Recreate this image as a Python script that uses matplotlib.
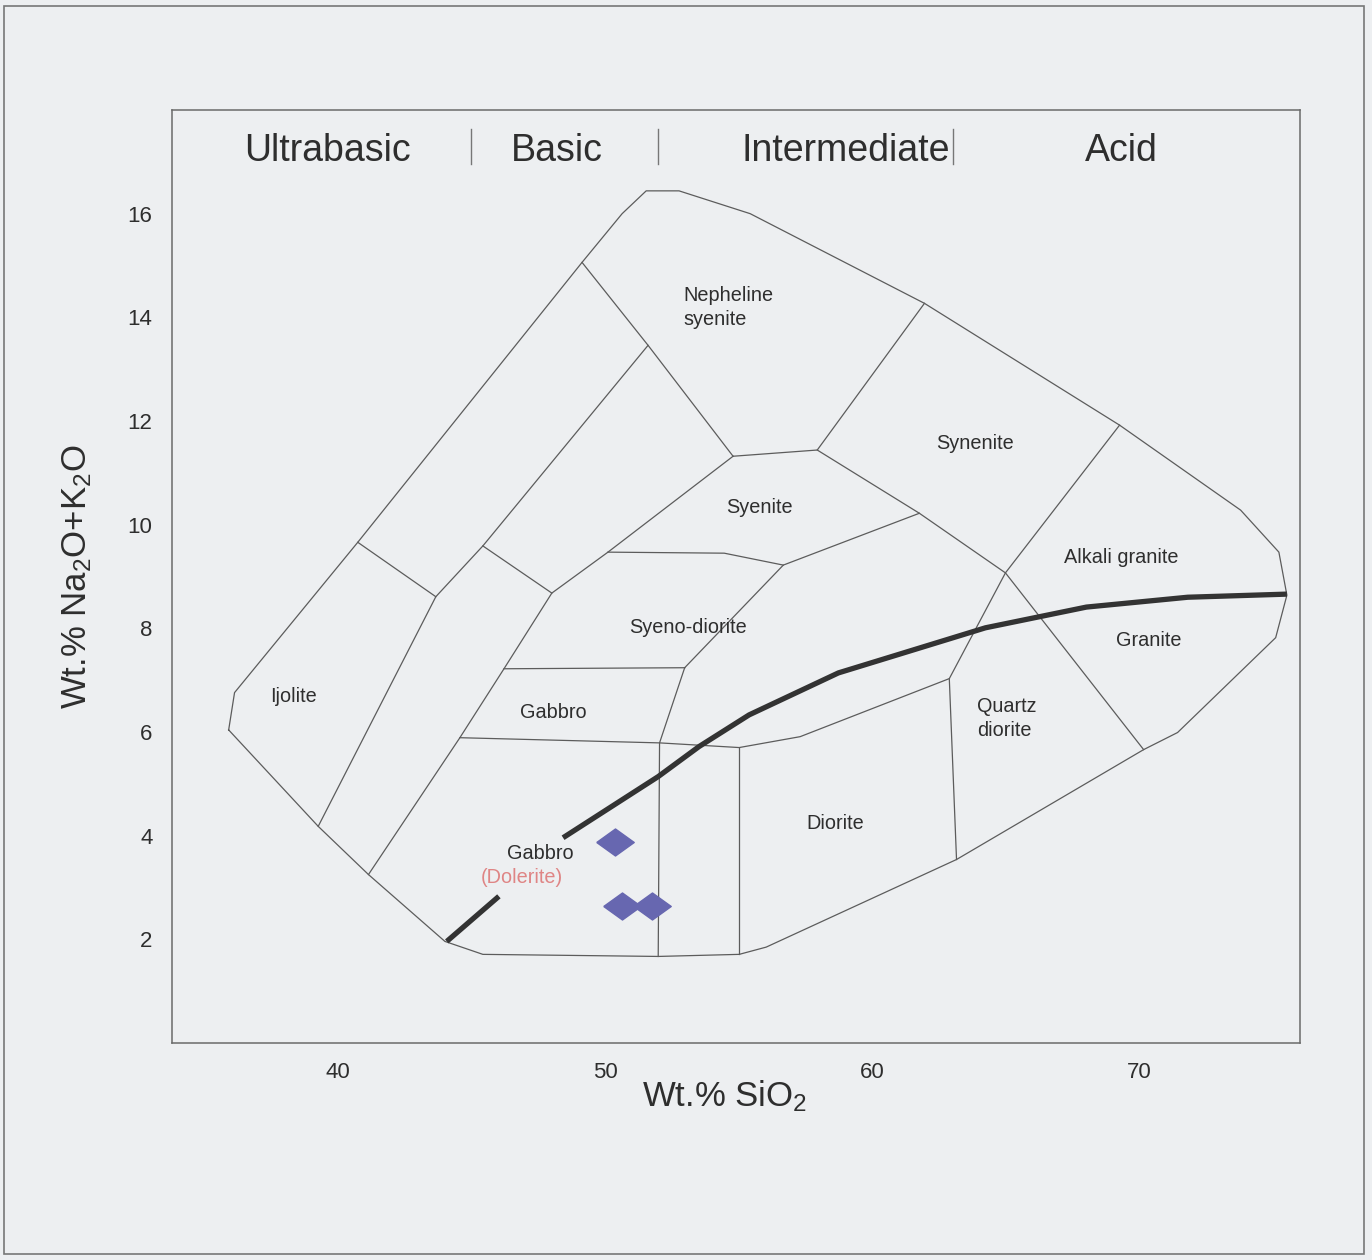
import matplotlib.pyplot as plt
from matplotlib.patches import Rectangle

plt.rcParams['font.family'] = ['Liberation Sans', 'DejaVu Sans']
plt.rcParams['mathtext.fontset'] = 'custom'
plt.rcParams['mathtext.rm'] = 'Liberation Sans'
plt.rcParams['mathtext.it'] = 'Liberation Sans:italic'

# outer boundary of the classification fields (SiO2 wt%, Na2O+K2O wt%)
outline_x = [35.92, 36.14, 40.75, 49.14, 50.64, 51.54, 52.77, 55.43, 61.95, 69.25,
             73.78, 75.21, 75.51, 75.09, 71.42, 70.15, 63.15, 56.03, 55.02, 51.99,
             45.43, 44.01, 41.15, 39.27, 35.92]
outline_y = [6.04, 6.76, 9.66, 15.06, 16.0, 16.44, 16.44, 16.0, 14.27, 11.92,
             10.28, 9.47, 8.64, 7.82, 5.99, 5.66, 3.54, 1.85, 1.71, 1.67,
             1.71, 1.96, 3.25, 4.18, 6.04]

# field boundaries inside the outline
field_lines = [
    ([40.75, 43.67], [9.66, 8.61]),
    ([39.27, 43.67, 45.43, 51.61], [4.18, 8.61, 9.59, 13.46]),
    ([49.14, 51.61, 54.79], [15.06, 13.46, 11.32]),
    ([45.43, 48.01], [9.59, 8.68]),
    ([41.15, 44.57, 46.22, 48.01, 50.11, 54.79], [3.25, 5.89, 7.22, 8.68, 9.47, 11.32]),
    ([46.22, 52.98], [7.22, 7.24]),
    ([44.57, 52.04, 55.02, 57.30, 62.88], [5.89, 5.79, 5.70, 5.91, 7.03]),
    ([52.98, 52.04, 51.99], [7.24, 5.79, 1.67]),
    ([55.02, 55.02], [5.70, 1.71]),
    ([52.98, 56.67, 61.76], [7.24, 9.22, 10.22]),
    ([50.11, 54.46, 56.67], [9.47, 9.45, 9.22]),
    ([54.79, 57.94, 61.95], [11.32, 11.44, 14.27]),
    ([57.94, 61.76, 64.98, 70.15], [11.44, 10.22, 9.07, 5.66]),
    ([69.25, 64.98, 62.88, 63.15], [11.92, 9.07, 7.03, 3.54]),
]

# alkaline / subalkaline divide (broken around the dolerite label)
divide_low_x = [44.08, 46.03]
divide_low_y = [1.96, 2.83]
divide_up_x = [48.43, 51.99, 53.52, 55.39, 58.73, 64.23, 68.01, 71.80, 75.51]
divide_up_y = [3.96, 5.14, 5.72, 6.33, 7.14, 8.01, 8.41, 8.60, 8.66]

# samples
sample_sio2 = [50.37, 50.64, 51.76]
sample_alk = [3.87, 2.64, 2.64]

field_names = ['Nepheline\nsyenite', 'Synenite', 'Syenite', 'Alkali granite',
               'Syeno-diorite', 'Granite', 'Ijolite', 'Gabbro', 'Quartz\ndiorite',
               'Diorite', 'Gabbro']
field_x = [52.92, 63.86, 55.77, 69.33, 53.11, 70.34, 38.35, 48.05, 63.93, 58.61, 47.57]
field_y = [14.19, 11.57, 10.34, 9.36, 8.01, 7.76, 6.68, 6.37, 6.26, 4.23, 3.66]

class_names = ['Ultrabasic', 'Basic', 'Intermediate', 'Acid']
class_x = [39.6, 48.2, 59.0, 69.3]
class_breaks = [45, 52, 63]

bg = '#edeff1'
txt = '#2e2e2e'

fig = plt.figure(figsize=(13.72, 12.6), dpi=100, facecolor=bg)
ax = fig.add_axes([172/1372, 1 - 1043/1260, 1128/1372, 933/1260])
ax.set_facecolor(bg)

ax.plot(outline_x, outline_y, color='#5c5c5c', lw=0.9)
for xs, ys in field_lines:
    ax.plot(xs, ys, color='#5c5c5c', lw=0.9)

ax.plot(divide_low_x, divide_low_y, color='#333333', lw=3.8, solid_capstyle='butt')
ax.plot(divide_up_x, divide_up_y, color='#333333', lw=3.8, solid_capstyle='butt')

diamond = [(-1, 0), (0, 0.72), (1, 0), (0, -0.72), (-1, 0)]
ax.plot(sample_sio2, sample_alk, ls='none', marker=diamond, ms=27,
        color='#6767b0', mec='#6767b0')

for name, x, y in zip(field_names, field_x, field_y):
    ha = 'left' if '\n' in name else 'center'
    ax.text(x, y, name, fontsize=14.3, color=txt, ha=ha, va='center', linespacing=1.3)
ax.text(46.89, 3.19, '(Dolerite)', fontsize=14.3, color='#df8585', ha='center', va='center')

for name, x in zip(class_names, class_x):
    ax.text(x, 17.21, name, fontsize=27, color=txt, ha='center', va='center')
for x in class_breaks:
    ax.plot([x, x], [16.96, 17.64], color='#777777', lw=1)

ax.set_xlim(33.8, 76.0)
ax.set_ylim(0, 18)
ax.set_xticks([40, 50, 60, 70])
ax.set_yticks([2, 4, 6, 8, 10, 12, 14, 16])
ax.tick_params(length=0, labelsize=16, labelcolor=txt, pad=14)
for s in ax.spines.values():
    s.set_color('#6a6a6a')
    s.set_linewidth(1.1)

ax.set_xlabel('Wt.% SiO$_2$', fontsize=25, color=txt, labelpad=6)
ax.xaxis.set_label_coords(0.49, -0.038, transform=ax.transAxes)
ax.xaxis.label.set_va('top')
ax.set_ylabel('Wt.% Na$_2$O+K$_2$O', fontsize=25, color=txt, labelpad=24)

fig.patches.append(Rectangle((4/1372, 1 - 1254/1260), 1360/1372, 1248/1260,
                             transform=fig.transFigure, fill=False,
                             edgecolor='#777777', lw=1.2))

plt.savefig('out.png', dpi=100, facecolor=bg)
